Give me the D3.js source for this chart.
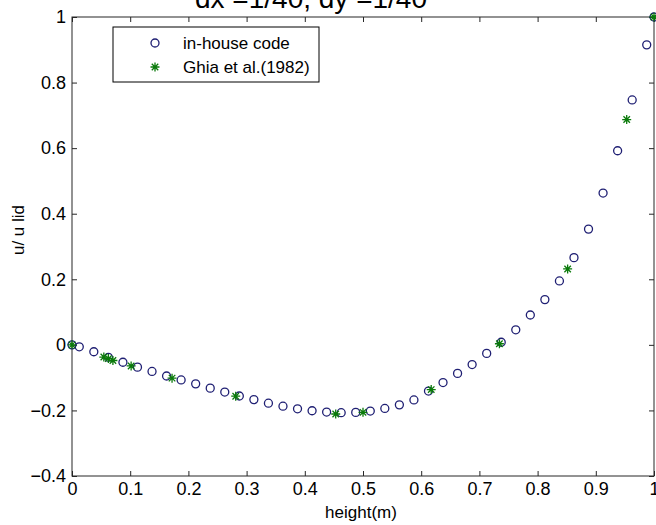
<!DOCTYPE html>
<html>
<head>
<meta charset="utf-8">
<script src="https://cdn.jsdelivr.net/npm/d3@7"></script>
<style>
  html, body { margin: 0; padding: 0; background: #fff; }
  svg { display: block; }
  text { font-family: "Liberation Sans", Arial, Helvetica, sans-serif; fill: #000; }
</style>
</head>
<body>
<svg id="chart" width="656" height="525"></svg>
<script>
// Simulated u-velocity profile along the vertical centreline (cell centres + walls)
const heightInHouse = [0, 0.0125, 0.0375, 0.0625, 0.0875, 0.1125, 0.1375, 0.1625, 0.1875, 0.2125,
  0.2375, 0.2625, 0.2875, 0.3125, 0.3375, 0.3625, 0.3875, 0.4125, 0.4375, 0.4625,
  0.4875, 0.5125, 0.5375, 0.5625, 0.5875, 0.6125, 0.6375, 0.6625, 0.6875, 0.7125,
  0.7375, 0.7625, 0.7875, 0.8125, 0.8375, 0.8625, 0.8875, 0.9125, 0.9375, 0.9625,
  0.9875, 1];
const uInHouse = [0, -0.006, -0.021, -0.038, -0.053, -0.068, -0.081, -0.095, -0.107, -0.119,
  -0.132, -0.144, -0.156, -0.167, -0.178, -0.187, -0.195, -0.201, -0.205, -0.207,
  -0.206, -0.202, -0.194, -0.183, -0.168, -0.141, -0.115, -0.087, -0.060, -0.026,
  0.008, 0.046, 0.091, 0.138, 0.195, 0.266, 0.353, 0.463, 0.592, 0.747,
  0.915, 1];

// Benchmark values, Ghia, Ghia & Shin (1982), Re = 100
const heightGhia = [0, 0.0547, 0.0625, 0.0703, 0.1016, 0.1719, 0.2813, 0.4531, 0.5, 0.6172, 0.7344, 0.8516, 0.9531, 1];
const uGhia = [0, -0.03717, -0.04192, -0.04775, -0.06434, -0.10150, -0.15662, -0.21090, -0.20581, -0.13641, 0.00332, 0.23151, 0.68717, 1];

const xTicks = [0, 0.1, 0.2, 0.3, 0.4, 0.5, 0.6, 0.7, 0.8, 0.9, 1];
const yTicks = [-0.4, -0.2, 0, 0.2, 0.4, 0.6, 0.8, 1];
const legendLabels = ["in-house code", "Ghia et al.(1982)"];
const titleText = "dx =1/40, dy =1/40";

const svg = d3.select("#chart");
const W = 656, H = 525;
const plot = { left: 72, right: 654, top: 17, bottom: 476 };

svg.append("rect").attr("width", W).attr("height", H).attr("fill", "#fff");

const x = d3.scaleLinear().domain([0, 1]).range([plot.left, plot.right]);
const y = d3.scaleLinear().domain([-0.4, 1]).range([plot.bottom, plot.top]);

const axisColor = "#262626";
const fmt = d => d3.format("")(+d.toFixed(1));

function styleAxis(g) {
  g.selectAll("path").remove();
  g.selectAll("line").attr("stroke", axisColor).attr("stroke-width", 1);
  g.selectAll("text").attr("font-size", 18).attr("fill", "#000")
    .style("font-family", '"Liberation Sans", Arial, sans-serif');
}

// bottom axis with labels, ticks pointing inward
svg.append("g").attr("transform", `translate(0,${plot.bottom})`)
  .call(d3.axisBottom(x).tickValues(xTicks).tickFormat(fmt).tickSizeInner(-5).tickSizeOuter(0).tickPadding(6))
  .call(styleAxis);
// top axis, ticks only
svg.append("g").attr("transform", `translate(0,${plot.top})`)
  .call(d3.axisTop(x).tickValues(xTicks).tickFormat("").tickSizeInner(-5).tickSizeOuter(0))
  .call(styleAxis);
// left axis with labels
svg.append("g").attr("transform", `translate(${plot.left},0)`)
  .call(d3.axisLeft(y).tickValues(yTicks).tickFormat(fmt).tickSizeInner(-5).tickSizeOuter(0).tickPadding(6))
  .call(styleAxis);
// right axis, ticks only
svg.append("g").attr("transform", `translate(${plot.right},0)`)
  .call(d3.axisRight(y).tickValues(yTicks).tickFormat("").tickSizeInner(-5).tickSizeOuter(0))
  .call(styleAxis);

// axes box
svg.append("rect")
  .attr("x", plot.left).attr("y", plot.top)
  .attr("width", plot.right - plot.left).attr("height", plot.bottom - plot.top)
  .attr("fill", "none").attr("stroke", axisColor).attr("stroke-width", 1);

// axis titles
svg.append("text").attr("x", 361).attr("y", 518).attr("text-anchor", "middle")
  .attr("font-size", 17).text("height(m)");
svg.append("text").attr("transform", "translate(24,230) rotate(-90)").attr("text-anchor", "middle")
  .attr("font-size", 17).text("u/ u lid");

// chart title (sits partly above the figure edge)
svg.append("text").attr("x", 311).attr("y", 8).attr("text-anchor", "middle")
  .attr("font-size", 28).text(titleText);

const circleColor = "#1f1f73";
const starColor = "#0a7a0a";

function starPath(cx, cy, r) {
  const d = r * 0.72;
  return `M${cx - r},${cy}L${cx + r},${cy}M${cx},${cy - r}L${cx},${cy + r}` +
    `M${cx - d},${cy - d}L${cx + d},${cy + d}M${cx - d},${cy + d}L${cx + d},${cy - d}`;
}

const inHouse = heightInHouse.map((h, i) => ({ h, u: uInHouse[i] }));
const ghia = heightGhia.map((h, i) => ({ h, u: uGhia[i] }));

svg.append("g").selectAll("circle").data(inHouse).join("circle")
  .attr("cx", d => x(d.h)).attr("cy", d => y(d.u)).attr("r", 4)
  .attr("fill", "none").attr("stroke", circleColor).attr("stroke-width", 1.3);

svg.append("g").selectAll("path").data(ghia).join("path")
  .attr("d", d => starPath(x(d.h), y(d.u), 4.5))
  .attr("fill", "none").attr("stroke", starColor).attr("stroke-width", 1.3);

// legend
const rowY = [43, 67];
const lg = svg.append("g");
lg.append("rect").attr("x", 113).attr("y", 27).attr("width", 206).attr("height", 55)
  .attr("fill", "#fff").attr("stroke", "#000").attr("stroke-width", 1);
lg.append("circle").attr("cx", 155).attr("cy", rowY[0]).attr("r", 4)
  .attr("fill", "none").attr("stroke", circleColor).attr("stroke-width", 1.3);
lg.append("path").attr("d", starPath(155, rowY[1], 4.5))
  .attr("fill", "none").attr("stroke", starColor).attr("stroke-width", 1.3);
lg.selectAll("text.lab").data(legendLabels).join("text").attr("class", "lab")
  .attr("x", 183).attr("y", (d, i) => rowY[i]).attr("dy", "0.35em")
  .attr("font-size", 17).text(d => d);
</script>
</body>
</html>
